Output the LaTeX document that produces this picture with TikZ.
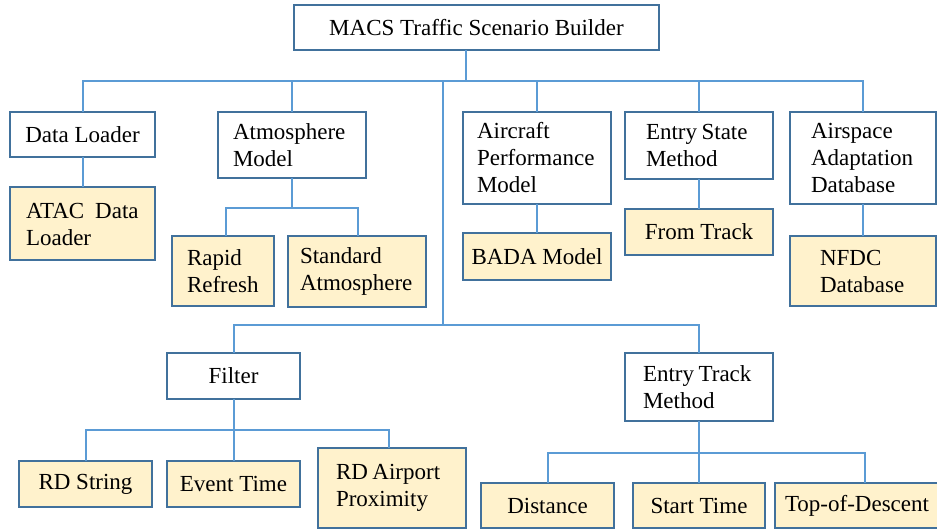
\documentclass[tikz,border=0pt]{standalone}
\usepackage{fontspec}
\setmainfont{Liberation Serif}
\definecolor{boxc}{HTML}{41719C}
\definecolor{linec}{HTML}{5B9BD5}
\definecolor{fillc}{HTML}{FFF2CC}
\begin{document}
\begin{tikzpicture}[x=1pt,y=-1pt,
  box/.style={draw=boxc, line width=2pt, fill=white, inner ysep=0pt, outer sep=0pt,
    font=\fontsize{23pt}{27pt}\selectfont},
  ybox/.style={box, fill=fillc},
  conn/.style={draw=linec, line width=2pt}]
\useasboundingbox (0,0) rectangle (937,529);
\fill[white] (0,0) rectangle (937,529);
% level 0
\node[box, minimum width=365pt, minimum height=45pt] (root) at (476.5,27.5) {MACS Traffic Scenario Builder};
% level 1
\node[box, minimum width=145pt, minimum height=45pt] (dl) at (82.5,134.5) {Data Loader};
\node[box, minimum height=66pt, text width=118pt, inner xsep=15pt, align=left] (atm) at (292,145.5) {\mbox{Atmosphere}\\\mbox{Model}};
\node[box, minimum height=92pt, text width=120pt, inner xsep=14pt, align=left] (acp) at (537,158) {\mbox{Aircraft}\\\mbox{Performance}\\\mbox{Model}};
\node[box, minimum height=67pt, text width=106pt, inner xsep=21pt, align=left] (esm) at (699,145.5) {\mbox{Entry\hspace{4.5pt}State}\\\mbox{Method}};
\node[box, minimum height=92pt, text width=104pt, inner xsep=21pt, align=left] (aad) at (863,158) {\mbox{Airspace}\\\mbox{Adaptation}\\\mbox{Database}};
% level 2
\node[ybox, minimum height=73pt, text width=113pt, inner xsep=16pt, align=left] (atac) at (82.5,224) {\mbox{ATAC\hspace{11pt}Data}\\\mbox{Loader}};
\node[ybox, minimum height=70pt, text width=72pt, inner xsep=15pt, align=left] (rr) at (223,271) {\mbox{Rapid}\\\mbox{Refresh}};
\node[ybox, minimum height=71pt, text width=114pt, inner xsep=12pt, align=left] (sa) at (357,271.5) {\mbox{Standard}\\\mbox{Atmosphere}};
\node[ybox, minimum width=148pt, minimum height=47pt] (bada) at (537,256.5) {BADA Model};
\node[ybox, minimum width=148pt, minimum height=46pt] (ft) at (699,232) {From Track};
\node[ybox, minimum height=70pt, text width=86pt, inner xsep=30pt, align=left] (nfdc) at (863,271) {\mbox{NFDC}\\\mbox{Database}};
% lower section
\node[box, minimum width=133pt, minimum height=46pt] (filter) at (233.5,376) {Filter};
\node[box, minimum height=68pt, text width=112pt, inner xsep=18pt, align=left] (etm) at (699,387) {\mbox{Entry\hspace{4.5pt}Track}\\\mbox{Method}};
\node[ybox, minimum width=133pt, minimum height=46pt] (rds) at (85.5,484) {RD String};
\node[ybox, minimum width=133pt, minimum height=46pt] (evt) at (233.5,484) {Event Time};
\node[ybox, minimum height=80pt, text width=112pt, inner xsep=18pt, align=left] (rdap) at (392,488) {\mbox{RD\hspace{4.5pt}Airport}\\\mbox{Proximity}};
\node[ybox, minimum width=133pt, minimum height=45pt] (dist) at (547.5,505.5) {Distance};
\node[ybox, minimum width=132pt, minimum height=45pt] (st) at (699,505.5) {Start Time};
\node[ybox, minimum width=164pt, minimum height=45pt] (tod) at (857,505.5) {Top-of-Descent};
% connectors
\coordinate (bus) at (466,81);
\coordinate (mid) at (443,81);
\coordinate (lowbus) at (443,325);
\draw[conn] (root.south -| bus) -- (bus);
\draw[conn] (dl.north) -- ++(0,-31) -| (aad.north);
\draw[conn] (atm.north) -- (atm.north |- bus);
\draw[conn] (acp.north) -- (acp.north |- bus);
\draw[conn] (esm.north) -- (esm.north |- bus);
\draw[conn] (mid) -- (lowbus);
\draw[conn] (filter.north) -- ++(0,-28) -| (etm.north);
\draw[conn] (dl.south) -- (atac.north);
\draw[conn] ([xshift=3pt]rr.north) -- ++(0,-28) -| ([xshift=1pt]sa.north);
\draw[conn] (atm.south) -- (atm.south |- 0,208);
\draw[conn] (acp.south) -- (bada.north);
\draw[conn] (esm.south) -- (ft.north);
\draw[conn] (aad.south) -- (nfdc.north);
\draw[conn] (rds.north) -- ++(0,-31) -| ([xshift=-3pt]rdap.north);
\draw[conn] (filter.south) -- (evt.north);
\draw[conn] (dist.north) -- ++(0,-30) -| ([xshift=8pt]tod.north);
\draw[conn] (etm.south) -- (st.north);
\end{tikzpicture}
\end{document}
